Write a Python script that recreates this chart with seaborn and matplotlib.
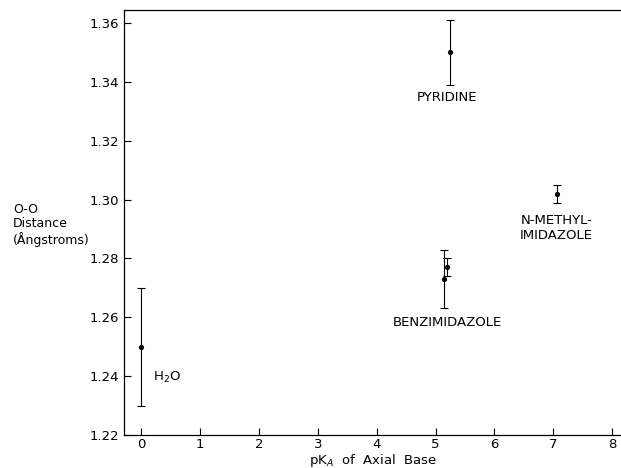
import pandas as pd
import seaborn as sns
import matplotlib.pyplot as plt

# values
bases = ['H2O', 'Benzimidazole', 'Benzimidazole b', 'Pyridine', 'N-methylimidazole']
pka = [0.0, 5.14, 5.19, 5.25, 7.06]
distance = [1.250, 1.273, 1.277, 1.350, 1.302]
error = [0.020, 0.010, 0.003, 0.011, 0.003]

labels = ['H$_2$O', 'BENZIMIDAZOLE', 'PYRIDINE', 'N-METHYL-\nIMIDAZOLE']
label_x = [0.2, 5.2, 5.2, 7.05]
label_y = [1.2397, 1.2583, 1.3346, 1.2905]

data = pd.DataFrame({'base': bases, 'pka': pka, 'dist': distance, 'err': error})

sns.set_style('ticks')
plt.rcParams['font.family'] = ['DejaVu Sans']
plt.rcParams['text.color'] = 'black'
plt.rcParams['axes.labelcolor'] = 'black'

fig = plt.figure(figsize=(6.21, 4.68), dpi=100)
ax = fig.add_axes([0.2, 0.0705, 0.8, 0.908])

ax.errorbar(data['pka'], data['dist'], yerr=data['err'], fmt='none',
            ecolor='black', elinewidth=0.8, capsize=3, capthick=0.8)
sns.scatterplot(data=data, x='pka', y='dist', color='black', s=14,
                edgecolor='black', linewidth=0, ax=ax, legend=False)

for i, txt in enumerate(labels):
    ha = 'left' if i == 0 else 'center'
    ax.text(label_x[i], label_y[i], txt, ha=ha, va='center', fontsize=9.5,
            linespacing=1.2)

ax.set_xlim(-0.29, 8.15)
ax.set_ylim(1.22, 1.3644)
ax.set_xticks(range(0, 9))
ax.set_yticks([1.22, 1.24, 1.26, 1.28, 1.30, 1.32, 1.34, 1.36])
ax.set_yticklabels(['1.22', '1.24', '1.26', '1.28', '1.30', '1.32', '1.34', '1.36'])
ax.tick_params(axis='both', direction='in', length=5, width=0.8,
               labelsize=9.5, colors='black')
ax.tick_params(axis='x', pad=2)

for side in ['left', 'bottom', 'top']:
    ax.spines[side].set_linewidth(0.9)
    ax.spines[side].set_color('black')
ax.spines['right'].set_visible(False)

ax.set_xlabel('pK$_A$  of  Axial  Base', fontsize=9.5, labelpad=1)
ax.set_ylabel('')
fig.text(0.021, 0.52, 'O-O\nDistance\n(Ångstroms)', ha='left', va='center',
         fontsize=9, linespacing=1.15)

fig.savefig('out.png', dpi=100)
